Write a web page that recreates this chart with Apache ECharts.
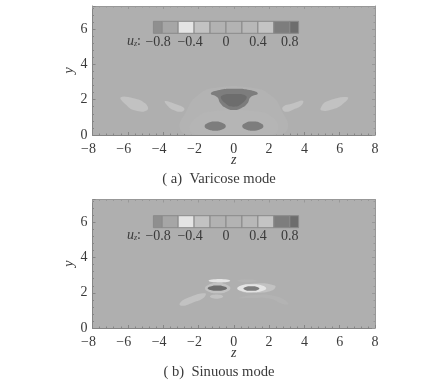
<!DOCTYPE html>
<html><head><meta charset="utf-8">
<style>html,body{margin:0;padding:0;background:#fff}#c{width:432px;height:389px;filter:blur(0.55px)}</style>
<script src="https://cdn.jsdelivr.net/npm/echarts@6/dist/echarts.min.js"></script>
</head><body><div id="c"></div>
<script>
const xTicks=[-8,-6,-4,-2,0,2,4,6,8];
const yTicks=[0,2,4,6];
const barLabels=[-0.8,-0.4,0,0.4,0.8];
const barFrom=[-0.91,-0.8,-0.6,-0.4,-0.2,0,0.2,0.4,0.6,0.8];
const barTo=[-0.8,-0.6,-0.4,-0.2,0,0.2,0.4,0.6,0.8,0.91];
const barLevel=[-0.85,-0.7,-0.5,-0.3,-0.1,0.1,0.3,0.5,0.7,0.85];

// Contour regions as [level, outline of [z,y] points]
const domeA=[0.12,[[-3.05,0.35],[-2.65,1.42],[-2.09,2.2],[-1.15,2.66],[1.11,2.66],[2.15,2.2],[2.7,1.42],[3.05,0.35],[2.3,0],[-2.3,0]]];
const domeInnerA=[0.08,[[-2.5,0.3],[-2.1,1.0],[-1.2,1.35],[1.2,1.35],[2.2,1.0],[2.5,0.3],[1.9,0],[-1.9,0]]];
const capA=[0.7,[[-1.3,2.35],[-0.8,2.55],[0,2.62],[0.9,2.55],[1.36,2.35],[0.95,2.14],[0.78,1.8],[0.42,1.52],[0,1.42],[-0.42,1.52],[-0.76,1.8],[-0.93,2.14]]];
const capCoreA=[0.85,[[-0.7,2.2],[0,2.32],[0.7,2.2],[0.55,1.85],[0,1.6],[-0.55,1.85]]];
const lobeLeftA=[0.7,[[-1.65,0.5],[-1.47,0.68],[-1.05,0.77],[-0.63,0.68],[-0.45,0.5],[-0.63,0.32],[-1.05,0.24],[-1.47,0.32]]];
const lobeRightA=[0.7,[[0.48,0.5],[0.66,0.68],[1.08,0.76],[1.5,0.68],[1.68,0.5],[1.5,0.32],[1.08,0.24],[0.66,0.32]]];
const wing1A=[-0.3,[[-6.4,2.13],[-5.68,2.08],[-5.02,1.79],[-4.89,1.42],[-5.58,1.38],[-6.15,1.75]]];
const wing2A=[-0.3,[[-3.89,1.92],[-3.32,1.75],[-2.81,1.51],[-2.94,1.32],[-3.42,1.42],[-3.79,1.7]]];
const wing3A=[-0.3,[[2.77,1.57],[3.38,1.79],[3.91,1.94],[3.85,1.7],[3.38,1.45],[2.91,1.32]]];
const wing4A=[-0.3,[[4.92,1.51],[5.26,1.89],[6.45,2.13],[6.11,1.7],[5.45,1.42],[4.98,1.38]]];
const regionsA=[domeA,domeInnerA,wing1A,wing2A,wing3A,wing4A,capA,capCoreA,lobeLeftA,lobeRightA];

const streakLeftB=[-0.3,[[-3.07,1.38],[-2.6,1.72],[-1.62,1.98],[-1.7,1.72],[-2.3,1.45],[-2.9,1.26]]];
const streakRightB=[0.12,[[0.26,1.7],[1.3,1.89],[2.43,1.79],[3.09,1.42],[2.9,1.32],[2.06,1.66],[0.9,1.7]]];
const topLeftB=[-0.5,[[-1.43,2.68],[-0.8,2.78],[-0.2,2.68],[-0.8,2.58]]];
const topRightB=[0.12,[[0.2,2.68],[0.75,2.77],[1.3,2.68],[0.75,2.6]]];
const haloLeftB=[-0.3,[[-1.63,2.26],[-1.42,2.46],[-0.91,2.55],[-0.4,2.46],[-0.19,2.26],[-0.4,2.06],[-0.91,1.97],[-1.42,2.06]]];
const coreLeftB=[0.85,[[-1.48,2.26],[-1.32,2.36],[-0.93,2.41],[-0.54,2.36],[-0.38,2.26],[-0.54,2.16],[-0.93,2.11],[-1.32,2.16]]];
const underLeftB=[-0.3,[[-1.35,1.79],[-0.97,1.9],[-0.6,1.79],[-0.97,1.66]]];
const haloRightB=[-0.3,[[0.2,2.28],[1.0,2.52],[2.32,2.42],[2.2,2.15],[1.2,2.0],[0.5,2.05]]];
const ringRightB=[-0.5,[[0.2,2.26],[0.44,2.42],[1.02,2.49],[1.6,2.42],[1.84,2.26],[1.6,2.1],[1.02,2.03],[0.44,2.1]]];
const coreRightB=[0.7,[[0.55,2.24],[0.68,2.33],[1.0,2.37],[1.32,2.33],[1.45,2.24],[1.32,2.15],[1.0,2.11],[0.68,2.15]]];
const regionsB=[streakLeftB,streakRightB,topLeftB,topRightB,haloLeftB,underLeftB,coreLeftB,haloRightB,ringRightB,coreRightB];

function shade(u){
  if(u<-0.8)return '#8f8f8f';
  if(u<-0.6)return '#a6a6a6';
  if(u<-0.4)return '#e4e4e4';
  if(u<-0.2)return '#c2c2c2';
  if(u<0)return '#b2b2b2';
  if(u<0.1)return '#b5b5b5';
  if(u<0.2)return '#b3b3b3';
  if(u<0.4)return '#b8b8b8';
  if(u<0.6)return '#c4c4c4';
  if(u<0.8)return '#7d7d7d';
  return '#6d6d6d';
}
const serif='"Liberation Serif","DejaVu Serif",serif';
const ink='#3a3a3a', frame='#858585', frameLight='#989898', bg='#afafaf';
const line={show:true,onZero:false,lineStyle:{color:frame,width:1}};
const tick={show:true,inside:true,length:3,lineStyle:{color:frame,width:1}};
const minor={show:true,length:1.5,splitNumber:5,lineStyle:{color:frame,width:1}};
const lineM={show:true,onZero:false,lineStyle:{color:frameLight,width:1}};
const tickM={show:true,inside:true,length:3,lineStyle:{color:frameLight,width:1}};
const minorM={show:true,length:1.5,splitNumber:5,lineStyle:{color:frameLight,width:1}};
const label={show:true,color:ink,fontFamily:serif,fontSize:14,hideOverlap:false};
const signed=v=>v<0?'{n|\u2212'+Math.abs(v)+'}':String(v);
const signedRich={n:{color:ink,fontFamily:serif,fontSize:14,padding:[0,8,0,0]}};
const plots=[{top:6,h:129,barTop:21.3,regions:regionsA},{top:199.5,h:128.5,barTop:215.7,regions:regionsB}];
const grids=[],xAxes=[],yAxes=[],series=[];

function contour(g,regions){
  return {type:'custom',xAxisIndex:g,yAxisIndex:g,silent:true,clip:true,
    data:regions.map((r,i)=>[i]),encode:{x:0},
    renderItem(p,api){
      const r=regions[api.value(0)];
      return {type:'polygon',shape:{points:r[1].map(q=>api.coord(q)),smooth:0.5},
        style:{fill:shade(r[0]),stroke:null}};
    }};
}
plots.forEach((pl,i)=>{
  const g=i*2;
  grids.push({left:92.5,top:pl.top,width:282.5,height:pl.h,backgroundColor:bg,show:true,borderWidth:0});
  grids.push({left:153,top:pl.barTop,width:146,height:12,show:false});
  xAxes.push({gridIndex:g,type:'value',min:-8,max:8,interval:2,position:'bottom',axisLine:line,axisTick:tick,minorTick:minor,splitLine:{show:false},
    axisLabel:{...label,margin:7,formatter:signed,rich:signedRich,customValues:xTicks},
    name:'z',nameLocation:'middle',nameGap:18,nameMoveOverlap:false,nameTextStyle:{color:ink,fontFamily:serif,fontStyle:'italic',fontSize:14}});
  yAxes.push({gridIndex:g,type:'value',min:0,max:7.3,interval:2,position:'left',axisLine:line,axisTick:tick,minorTick:minor,splitLine:{show:false},
    axisLabel:{...label,margin:5,customValues:yTicks},
    name:'y',nameLocation:'middle',nameGap:16,nameRotate:90,nameMoveOverlap:false,nameTextStyle:{color:ink,fontFamily:serif,fontStyle:'italic',fontSize:14}});
  xAxes.push({gridIndex:g+1,type:'value',min:-0.915,max:0.915,position:'bottom',axisLine:{show:false},
    axisTick:{show:false},splitLine:{show:false},
    axisLabel:{...label,margin:2,customValues:barLabels,formatter:signed,rich:signedRich}});
  yAxes.push({gridIndex:g+1,type:'value',min:0,max:1,show:false});
  series.push(contour(g,pl.regions));
  series.push({type:'custom',xAxisIndex:g+1,yAxisIndex:g+1,silent:true,
    data:barFrom.map((v,k)=>[v,barTo[k],barLevel[k]]),encode:{x:[0,1]},
    renderItem(p,api){
      const a=api.coord([api.value(0),1]),b=api.coord([api.value(1),0]);
      return {type:'rect',shape:{x:a[0],y:a[1],width:b[0]-a[0],height:b[1]-a[1]},
        style:{fill:shade(api.value(2)),stroke:'#8a8a8a',lineWidth:1}};
    }});
});
// mirrored frame and ticks on the top and right sides
plots.forEach((pl,i)=>{
  const g=i*2;
  xAxes.push({gridIndex:g,type:'value',min:-8,max:8,interval:2,position:'top',axisLine:lineM,axisTick:tickM,minorTick:minorM,splitLine:{show:false},axisLabel:{show:false}});
  yAxes.push({gridIndex:g,type:'value',min:0,max:7.3,interval:2,position:'right',axisLine:lineM,axisTick:tickM,minorTick:minorM,splitLine:{show:false},axisLabel:{show:false}});
});
const capt=(t,y)=>({type:'text',x:219,y:y,style:{text:t,fill:ink,align:'center',font:'14.6px '+serif}});
const uz=(y)=>({type:'text',x:127,y:y,style:{
  text:'{u|u}{s|z}{c|:}',fill:ink,
  rich:{u:{font:'italic 14px '+serif,fill:ink},s:{font:'italic 8px '+serif,fill:ink,verticalAlign:'bottom',padding:[6,0,0,0]},c:{font:'14px '+serif,fill:ink}}}});
const chart=echarts.init(document.getElementById('c'),null,{renderer:'canvas'});
chart.setOption({animation:false,backgroundColor:'#fff',grid:grids,xAxis:xAxes,yAxis:yAxes,series,
  graphic:[capt('( a)  Varicose mode',172),capt('( b)  Sinuous mode',365),uz(34),uz(228)]});
</script>
</body></html>
